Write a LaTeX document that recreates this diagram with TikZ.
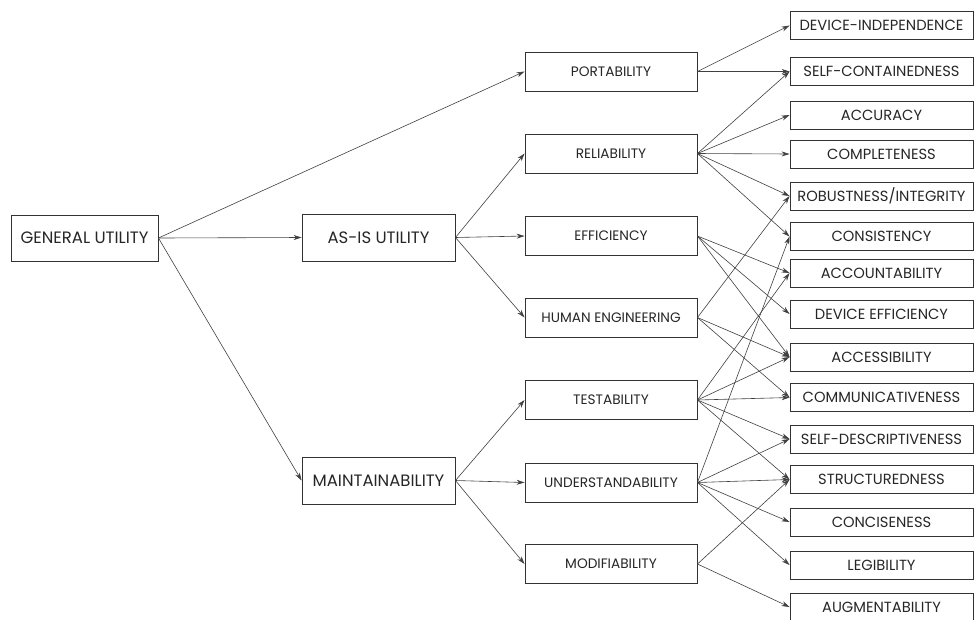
\documentclass[tikz,border=0pt]{standalone}
\usepackage{fontspec}
\setmainfont{Poppins}
\usetikzlibrary{arrows.meta}
\begin{document}
\begin{tikzpicture}[x=1pt,y=-1pt,
  box/.style={draw=black!80, line width=0.9pt, inner sep=0pt, rectangle, text=black!85},
  toplevel/.style={box, minimum width=147pt, minimum height=46pt, font=\fontsize{16.5}{19}\selectfont},
  midlevel/.style={box, minimum width=153pt, minimum height=47pt, font=\fontsize{16.5}{19}\selectfont},
  factor/.style={box, minimum width=172pt, minimum height=39pt, font=\fontsize{13.7}{16}\selectfont},
  criterion/.style={box, minimum width=183pt, minimum height=28pt, font=\fontsize{14.7}{17}\selectfont},
  link/.style={draw=black!75, line width=0.6pt, -{Stealth[length=8pt,width=5pt]}}
]
\useasboundingbox (0,0) rectangle (974,619);

% root
\node[toplevel] (gu) at (84.5,238) {GENERAL UTILITY};

% second level
\node[midlevel] (asis)  at (378.5,237.5) {AS-IS UTILITY};
\node[midlevel] (maint) at (378.5,480.5) {MAINTAINABILITY};

% quality factors
\node[factor] (port)  at (611,71.5)  {PORTABILITY};
\node[factor] (rel)   at (611,153.5) {RELIABILITY};
\node[factor] (eff)   at (611,236)   {EFFICIENCY};
\node[factor] (hum)   at (611,317.5) {HUMAN ENGINEERING};
\node[factor] (test)  at (611,400)   {TESTABILITY};
\node[factor] (und)   at (611,482.5) {UNDERSTANDABILITY};
\node[factor] (mod)   at (611,564)   {MODIFIABILITY};

% primitive criteria
\node[criterion] (devind) at (881.5,25.5)  {DEVICE-INDEPENDENCE};
\node[criterion] (selfc)  at (881.5,71.5)  {SELF-CONTAINEDNESS};
\node[criterion] (accur)  at (881.5,115)   {ACCURACY};
\node[criterion] (compl)  at (881.5,154)   {COMPLETENESS};
\node[criterion] (robust) at (881.5,196)   {ROBUSTNESS/INTEGRITY};
\node[criterion] (consis) at (881.5,236.5) {CONSISTENCY};
\node[criterion] (acct)   at (881.5,273)   {ACCOUNTABILITY};
\node[criterion] (deveff) at (881.5,314)   {DEVICE EFFICIENCY};
\node[criterion] (access) at (881.5,357)   {ACCESSIBILITY};
\node[criterion] (comm)   at (881.5,397.5) {COMMUNICATIVENESS};
\node[criterion] (selfd)  at (881.5,439)   {SELF-DESCRIPTIVENESS};
\node[criterion] (struct) at (881.5,479.5) {STRUCTUREDNESS};
\node[criterion] (conc)   at (881.5,522)   {CONCISENESS};
\node[criterion] (legib)  at (881.5,565)   {LEGIBILITY};
\node[criterion] (augm)   at (881.5,607)   {AUGMENTABILITY};

% tree links
\foreach \a/\b in {gu/port, gu/asis, gu/maint,
                   asis/rel, asis/eff, asis/hum,
                   maint/test, maint/und, maint/mod,
                   port/devind, port/selfc,
                   rel/selfc, rel/accur, rel/compl, rel/robust, rel/consis,
                   eff/acct, eff/deveff, eff/access,
                   hum/robust, hum/access, hum/comm,
                   test/acct, test/access, test/comm, test/selfd, test/struct,
                   und/consis, und/selfd, und/struct, und/conc, und/legib,
                   mod/struct, mod/augm}
  \draw[link] (\a.east) -- (\b.west);
\end{tikzpicture}
\end{document}
